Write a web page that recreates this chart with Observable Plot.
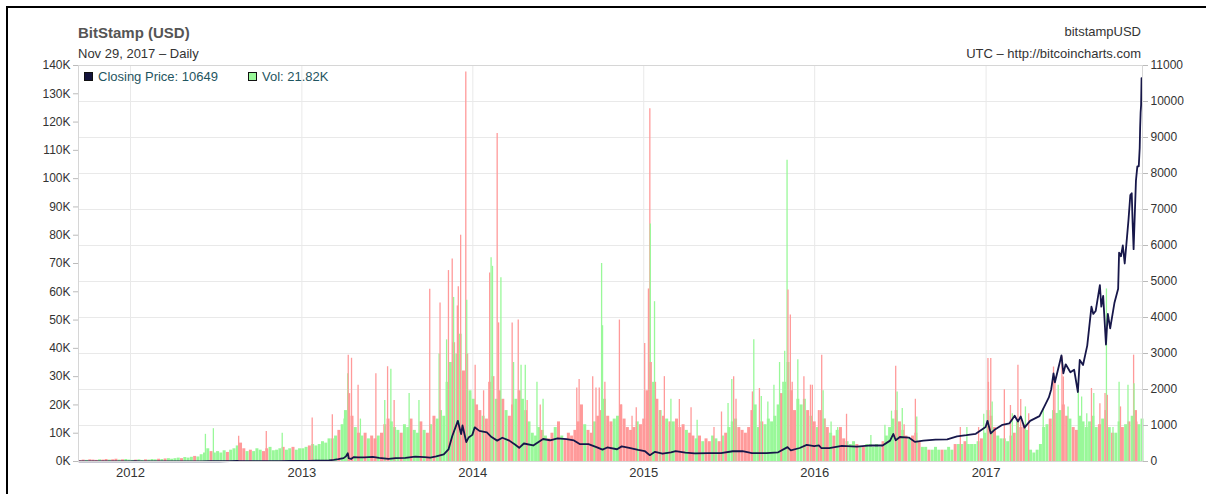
<!DOCTYPE html>
<html><head><meta charset="utf-8">
<script src="https://cdn.jsdelivr.net/npm/d3@7"></script>
<script src="https://cdn.jsdelivr.net/npm/@observablehq/plot@0.6"></script>
<style>
html,body{margin:0;padding:0;background:#fff;}
#wrap{position:relative;width:1206px;height:494px;overflow:hidden;font-family:"Liberation Sans",Arial,sans-serif;}
#chart{position:absolute;left:0;top:0;}
#border{position:absolute;left:6px;top:6px;width:1300px;height:600px;border-top:2px solid #000;border-left:2px solid #000;}
.t{position:absolute;white-space:nowrap;line-height:1;}
.sw{display:inline-block;width:7px;height:7px;border:1px solid #111;vertical-align:0px;margin-right:5px;}
</style></head>
<body><div id="wrap"><div id="chart"></div><div id="border"></div>
<div class="t" style="left:78px;top:25px;font-size:15px;font-weight:bold;color:#555">BitStamp (USD)</div>
<div class="t" style="left:78px;top:47px;font-size:13px;color:#333">Nov 29, 2017 – Daily</div>
<div class="t" style="right:65px;top:25px;font-size:13px;color:#333">bitstampUSD</div>
<div class="t" style="right:65px;top:47px;font-size:13px;color:#333">UTC – http://bitcoincharts.com</div>
<div class="t" id="leg1" style="left:84px;top:70px;font-size:13px;color:#1f5561"><span class="sw" style="background:#14143c"></span>Closing Price: 10649</div>
<div class="t" id="leg2" style="left:248px;top:70px;font-size:13px;color:#1f5561"><span class="sw" style="background:#99f899"></span>Vol: 21.82K</div>
</div>
<script>
// ---------------- data ----------------
const volTicks = [0,10,20,30,40,50,60,70,80,90,100,110,120,130,140];            // K
const priceTicks = [0,1000,2000,3000,4000,5000,6000,7000,8000,9000,10000,11000];
const yearTicks = ["2012-01-01","2013-01-01","2014-01-01","2015-01-01","2016-01-01","2017-01-01"];
const xExtent = ["2011-09-12","2017-12-01"];
const firstWeek = "2011-09-12";

// weekly bulk volume (K), grouped by month
const vol2011 = [[0.3,0.5,0.4],[0.6,0.5,0.4,0.6,0.5],[0.7,0.5,0.6,0.8],[0.5,0.6,0.7,0.5]];
const vol2012 = [[0.4,0.5,0.6,0.4,0.6],[0.5,0.7,0.6,0.8],[0.7,0.9,1.0,0.8],[1.0,1.2,1.0,1.4,1.2],[1.5,1.8,1.6,2.4],[3.0,4.5,3.5,3.0],[3.5,3.0,3.8,3.2,4.0],[4.5,5.5,6.5,4.5],[3.5,4.0,3.5,4.5],[4.0,3.5,4.5,5.0,3.8],[4.0,4.5,5.0,4.0],[4.5,5.0,4.0,4.5]];
const vol2013 = [[4.5,5.0,5.5,6.0,5.5],[6.0,7.0,6.5,8.0],[8.0,9.0,11.0,13.0],[18.0,24.0,16.0,12.0,10.0],[9.0,10.0,8.0,9.0],[8.0,9.0,10.0,13.0],[15.0,14.0,12.0,11.0,10.0],[13.0,12.0,15.0,11.0],[10.0,14.0,11.0,10.0,13.0],[16.0,15.0,18.0,16.0],[28.0,35.0,42.0,38.0],[45.0,32.0,38.0,25.0]];
const vol2014 = [[22,20,18,16,15],[28,30,22,25],[22,18,16,20,22],[25,22,18,14],[10,9,12,11],[9,8,10,12,14],[9,8,10,9],[11,14,20,13],[11,10,14,16,18],[22,16,14,15],[16,20,15,12],[11,12,14,13]];
const vol2015 = [[15,25,35,28,22],[18,16,15,14],[14,15,12,13,11],[10,9,8,9],[7,8,7,9],[8,7,9,10,12],[14,15,12,11],[10,12,18,20],[12,14,13,15],[14,16,20,24,28],[35,25,18,22],[20,22,18,16]];
const vol2016 = [[14,12,18,15,12],[10,9,11,12,8],[7,6,7,6],[5,5,6,6],[5,6,5,7,9],[12,15,18,14],[11,9,8,9],[10,7,5,5,4],[4,5,4,4],[4,5,4,6,6],[6,7,6,6],[6,7,8,10]];
const vol2017 = [[18,16,12,9,8],[8,7,9,10],[14,12,13,11],[4,3,4,6],[12,13,15,18,17],[18,20,16,15],[12,11,16,14,12],[14,16,12,13],[15,18,12,10],[10,14,12,13,14],[16,18,13,15]];

// weekly direction: g = close up, r = close down
const dir2011 = ["rrg","rrrgr","rgrr","grgg"];
const dir2012 = ["grggr","gggr","grgg","ggrgg","grgg","ggrg","gggrg","ggrr","grgg","grrgg","ggrg","grgg"];
const dir2013 = ["ggrgg","gggg","ggrg","grrgr","grgr","rgrr","rgggr","ggrg","grgrg","rggg","ggrg","grrg"];
const dir2014 = ["grrgr","rrgr","rgrrg","rgrg","gggr","grrgr","grrr","rrrg","rrgrr","grrg","grrr","rrgr"];
const dir2015 = ["rrrgr","grgr","grrrg","rrgr","grrg","grgrg","ggrr","rrrg","grgg","gggrg","grrg","ggrg"];
const dir2016 = ["rgrgr","grgrr","gggr","grgg","gggrg","ggrr","grgr","rrggr","gggr","gggrg","grgg","ggrg"];
const dir2017 = ["grrgg","gggr","grrg","gggg","ggrgg","grrg","rrggg","gggr","grgr","ggrgr","grgg"];

// single-day volume spikes [date, K, dir]
const spikes2012 = [["2012-06-09",9.6,"g"],["2012-06-26",11.6,"g"],["2012-08-19",8.9,"r"],["2012-10-17",10.6,"r"],["2012-11-20",10.0,"g"]];
const spikes2013 = [["2013-01-23",15.4,"r"],["2013-03-07",16.5,"r"],["2013-04-01",15.0,"g"],["2013-04-09",31.0,"g"],["2013-04-10",37.6,"r"],["2013-04-17",36.5,"r"],["2013-05-01",27.0,"r"],["2013-05-06",15.0,"g"],["2013-06-08",31.0,"r"],["2013-06-27",21.6,"g"],["2013-07-03",33.5,"r"],["2013-07-10",32.6,"g"],["2013-07-17",21.6,"r"],["2013-08-18",24.0,"g"],["2013-09-08",21.6,"g"],["2013-10-01",60.9,"r"],["2013-10-21",38.0,"g"],["2013-10-23",56.0,"r"],["2013-11-06",43.0,"g"],["2013-11-10",67.5,"r"],["2013-11-18",71.6,"r"],["2013-11-21",58.0,"g"],["2013-11-29",55.0,"r"],["2013-12-01",61.8,"r"],["2013-12-06",80.0,"r"],["2013-12-17",137.7,"r"],["2013-12-19",57.0,"g"],["2013-12-27",24.0,"g"]];
const spikes2014 = [["2014-01-06",34,"r"],["2014-01-24",25,"r"],["2014-02-06",66.6,"r"],["2014-02-09",72,"g"],["2014-02-12",69,"g"],["2014-02-22",116,"r"],["2014-02-25",49,"r"],["2014-03-02",65,"g"],["2014-03-26",49,"r"],["2014-03-29",35,"g"],["2014-04-08",50,"r"],["2014-04-14",34,"g"],["2014-04-23",34,"g"],["2014-04-27",21.6,"r"],["2014-05-18",28,"g"],["2014-05-25",20,"r"],["2014-05-31",22,"g"],["2014-08-11",26,"r"],["2014-08-16",29,"r"],["2014-09-14",30,"r"],["2014-09-21",26,"r"],["2014-09-28",26,"r"],["2014-10-03",70,"g"],["2014-10-05",48,"g"],["2014-10-10",28,"r"],["2014-11-10",50,"r"],["2014-11-14",20,"r"],["2014-12-07",16,"r"],["2014-12-16",19,"r"]];
const spikes2015 = [["2015-01-03",41.7,"r"],["2015-01-11",61,"r"],["2015-01-14",124.7,"r"],["2015-01-15",84,"g"],["2015-01-16",35,"r"],["2015-01-24",56.5,"g"],["2015-01-26",28,"r"],["2015-02-05",18,"r"],["2015-02-14",30,"r"],["2015-02-28",22,"g"],["2015-03-18",21.9,"r"],["2015-04-12",19,"r"],["2015-04-25",14.6,"g"],["2015-05-31",12,"r"],["2015-06-16",17.5,"r"],["2015-06-30",20.5,"g"],["2015-07-08",29,"g"],["2015-07-12",30,"r"],["2015-07-17",22,"r"],["2015-08-21",24.6,"r"],["2015-08-24",43,"g"],["2015-09-05",25.8,"r"],["2015-09-09",23,"g"],["2015-09-23",21,"g"],["2015-10-06",27,"g"],["2015-10-18",35,"g"],["2015-10-25",28,"g"],["2015-10-29",39,"g"],["2015-11-03",106.5,"g"],["2015-11-05",60.6,"r"],["2015-11-10",51.8,"r"],["2015-11-14",28,"r"],["2015-11-26",36,"g"],["2015-12-09",30,"r"],["2015-12-23",27,"r"],["2015-12-27",27,"r"]];
const spikes2016 = [["2016-01-09",18,"r"],["2016-01-16",37.6,"r"],["2016-01-19",25,"g"],["2016-01-23",15,"r"],["2016-02-05",14,"g"],["2016-02-19",12,"g"],["2016-03-09",16.7,"r"],["2016-04-30",9.2,"g"],["2016-05-30",12.8,"g"],["2016-06-13",17.8,"g"],["2016-06-22",33.7,"r"],["2016-06-25",24.6,"g"],["2016-07-06",18.7,"g"],["2016-07-10",13,"r"],["2016-08-03",22,"r"],["2016-08-06",15.7,"g"],["2016-11-07",12,"r"],["2016-11-21",12,"g"],["2016-12-16",12,"r"],["2016-12-27",16.7,"g"]];
const spikes2017 = [["2017-01-05",36.4,"r"],["2017-01-06",28,"r"],["2017-01-11",36.4,"r"],["2017-01-14",21,"g"],["2017-02-09",25.4,"r"],["2017-02-22",19.8,"r"],["2017-02-26",16.9,"g"],["2017-03-10",34,"r"],["2017-03-16",21.9,"r"],["2017-03-26",19.3,"g"],["2017-04-02",16.9,"r"],["2017-05-03",18.7,"g"],["2017-05-25",33.4,"r"],["2017-05-28",30,"r"],["2017-06-04",27,"g"],["2017-06-12",37,"r"],["2017-06-15",29.9,"r"],["2017-06-25",19.3,"g"],["2017-07-17",28.7,"g"],["2017-07-24",22.8,"g"],["2017-08-04",16.9,"g"],["2017-08-14",25.8,"r"],["2017-08-19",24,"g"],["2017-09-01",20.4,"r"],["2017-09-12",24,"r"],["2017-09-15",61,"g"],["2017-09-17",23.4,"r"],["2017-09-29",12,"g"],["2017-10-12",28,"g"],["2017-10-15",19.3,"r"],["2017-10-31",27,"g"],["2017-11-12",37.6,"r"],["2017-11-13",27.5,"g"],["2017-11-19",14,"r"],["2017-11-29",13.5,"g"]];

// closing price (USD) at turning points
const price2011 = [["2011-09-13",5.8],["2011-09-27",4.8],["2011-10-10",4.1],["2011-10-20",2.3],["2011-11-05",3.0],["2011-11-18",2.2],["2011-12-01",3.1],["2011-12-15",3.2],["2011-12-31",4.7]];
const price2012 = [["2012-01-10",7.0],["2012-01-25",5.8],["2012-02-10",5.9],["2012-02-20",4.4],["2012-03-10",5.0],["2012-04-10",4.9],["2012-05-10",5.0],["2012-06-01",5.2],["2012-06-20",6.6],["2012-07-10",7.5],["2012-07-31",9.4],["2012-08-16",13.5],["2012-08-20",8.0],["2012-09-10",11.0],["2012-09-30",12.4],["2012-10-25",10.6],["2012-11-15",11.0],["2012-12-10",13.4],["2012-12-31",13.5]];
const price2013 = [["2013-01-15",14.2],["2013-01-31",20.4],["2013-02-15",27],["2013-02-28",33],["2013-03-10",46],["2013-03-20",64],["2013-03-31",93],["2013-04-05",142],["2013-04-09",230],["2013-04-11",90],["2013-04-16",70],["2013-04-22",124],["2013-05-01",117],["2013-05-15",115],["2013-06-01",129],["2013-06-15",100],["2013-07-05",70],["2013-07-20",92],["2013-08-10",103],["2013-08-31",135],["2013-09-20",124],["2013-10-02",110],["2013-10-15",140],["2013-10-31",198],["2013-11-10",335],["2013-11-18",700],["2013-11-30",1130],["2013-12-07",760],["2013-12-10",1000],["2013-12-18",540],["2013-12-23",665],["2013-12-31",740]];
const price2014 = [["2014-01-05",950],["2014-01-15",850],["2014-01-31",810],["2014-02-10",680],["2014-02-22",580],["2014-03-05",660],["2014-03-20",580],["2014-04-01",470],["2014-04-10",380],["2014-04-20",500],["2014-05-10",445],["2014-05-31",625],["2014-06-15",590],["2014-07-01",640],["2014-07-20",620],["2014-08-05",585],["2014-08-18",480],["2014-09-05",485],["2014-09-22",400],["2014-10-05",330],["2014-10-15",390],["2014-11-05",340],["2014-11-15",420],["2014-12-01",380],["2014-12-20",320]];
const price2015 = [["2015-01-03",290],["2015-01-14",175],["2015-01-25",270],["2015-02-10",220],["2015-02-28",255],["2015-03-10",290],["2015-03-31",245],["2015-04-20",225],["2015-05-20",235],["2015-06-15",235],["2015-07-10",285],["2015-07-31",285],["2015-08-20",230],["2015-09-20",230],["2015-10-15",255],["2015-11-04",400],["2015-11-11",310],["2015-11-30",375],["2015-12-15",460],["2015-12-31",430]];
const price2016 = [["2016-01-10",450],["2016-01-15",375],["2016-02-01",370],["2016-02-28",435],["2016-03-31",415],["2016-04-30",450],["2016-05-25",445],["2016-06-10",580],["2016-06-17",765],["2016-06-22",590],["2016-07-01",680],["2016-07-20",665],["2016-08-02",545],["2016-08-20",580],["2016-09-15",610],["2016-10-10",615],["2016-10-31",700],["2016-11-20",730],["2016-12-10",770],["2016-12-31",960]];
const price2017 = [["2017-01-04",1130],["2017-01-11",780],["2017-01-20",890],["2017-02-05",1020],["2017-02-20",1060],["2017-03-03",1270],["2017-03-10",1110],["2017-03-16",1250],["2017-03-24",940],["2017-04-05",1130],["2017-04-25",1260],["2017-05-05",1520],["2017-05-15",1780],["2017-05-20",2000],["2017-05-25",2450],["2017-05-28",2200],["2017-06-11",2950],["2017-06-15",2450],["2017-06-20",2700],["2017-06-30",2480],["2017-07-08",2550],["2017-07-16",1930],["2017-07-20",2820],["2017-07-27",2680],["2017-08-05",3220],["2017-08-14",4300],["2017-08-18",4100],["2017-08-23",4180],["2017-09-01",4900],["2017-09-04",4300],["2017-09-08",4600],["2017-09-14",3250],["2017-09-16",3700],["2017-09-18",4100],["2017-09-23",3700],["2017-10-02",4400],["2017-10-10",4800],["2017-10-12",5800],["2017-10-16",5700],["2017-10-20",6000],["2017-10-24",5500],["2017-11-01",6700],["2017-11-05",7400],["2017-11-08",7450],["2017-11-10",6600],["2017-11-12",5900],["2017-11-17",7800],["2017-11-20",8200],["2017-11-23",8200],["2017-11-25",8700],["2017-11-26",9300],["2017-11-27",9700],["2017-11-28",9900],["2017-11-29",10649]];

// ---------------- build ----------------
const GREEN = "#99f899", RED = "#ff9a9a", NAVY = "#17174a";
const k = 140 / 11000; // price -> volume-axis units
const DAY = 864e5;
const vols = [vol2011,vol2012,vol2013,vol2014,vol2015,vol2016,vol2017].flat(2);
const dirs = [dir2011,dir2012,dir2013,dir2014,dir2015,dir2016,dir2017].flat().join("");
if (vols.length !== dirs.length) console.warn("length mismatch", vols.length, dirs.length);
const t0 = Date.parse(firstWeek);
const bulk = vols.map((v, i) => ({date: new Date(t0 + (i * 7 + 3) * DAY), vol: v, c: dirs[i] === "g" ? GREEN : RED}));
const spikes = [spikes2012,spikes2013,spikes2014,spikes2015,spikes2016,spikes2017].flat()
  .map(([d, v, c]) => ({date: new Date(d), vol: v, c: c === "g" ? GREEN : RED}));
const prices = [price2011,price2012,price2013,price2014,price2015,price2016,price2017].flat()
  .map(([d, p]) => ({date: new Date(d), price: p}));
const years = yearTicks.map(d => new Date(d));
const priceTickY = priceTicks.map(p => p * k);

const chart = Plot.plot({
  width: 1206, height: 494,
  marginTop: 65, marginBottom: 33, marginLeft: 78, marginRight: 64,
  x: {type: "utc", domain: xExtent.map(d => new Date(d))},
  y: {domain: [0, 140]},
  color: {type: "identity"},
  style: {fontFamily: "'Liberation Sans', Arial, sans-serif", fontSize: "12px", color: "#333", background: "transparent"},
  marks: [
    Plot.gridY(priceTickY, {stroke: "#e9e9e9", strokeOpacity: 1}),
    Plot.gridX(years, {stroke: "#e9e9e9", strokeOpacity: 1}),
    Plot.ruleX(bulk, {x: "date", y1: 0, y2: "vol", stroke: "c", strokeWidth: 3.0}),
    Plot.ruleX(spikes, {x: "date", y1: 0, y2: "vol", stroke: "c", strokeWidth: 1.3}),
    Plot.line(prices, {x: "date", y: d => d.price * k, stroke: NAVY, strokeWidth: 1.8}),
    Plot.frame({stroke: "#d6d6d6"}),
    Plot.axisY(volTicks, {anchor: "left", label: null, tickFormat: d => d + "K", tickSize: 5, tickPadding: 3, stroke: "#bbb", fill: "#333", fontSize: 12}),
    Plot.axisY(priceTickY, {anchor: "right", label: null, tickFormat: d => String(Math.round(d / k)), tickSize: 5, tickPadding: 3, stroke: "#bbb", fill: "#333", fontSize: 12}),
    Plot.axisX(years, {label: null, tickFormat: "%Y", tickSize: 0, tickPadding: 6, fill: "#333", fontSize: 13})
  ]
});
document.getElementById("chart").appendChild(chart);
</script>
</body></html>
